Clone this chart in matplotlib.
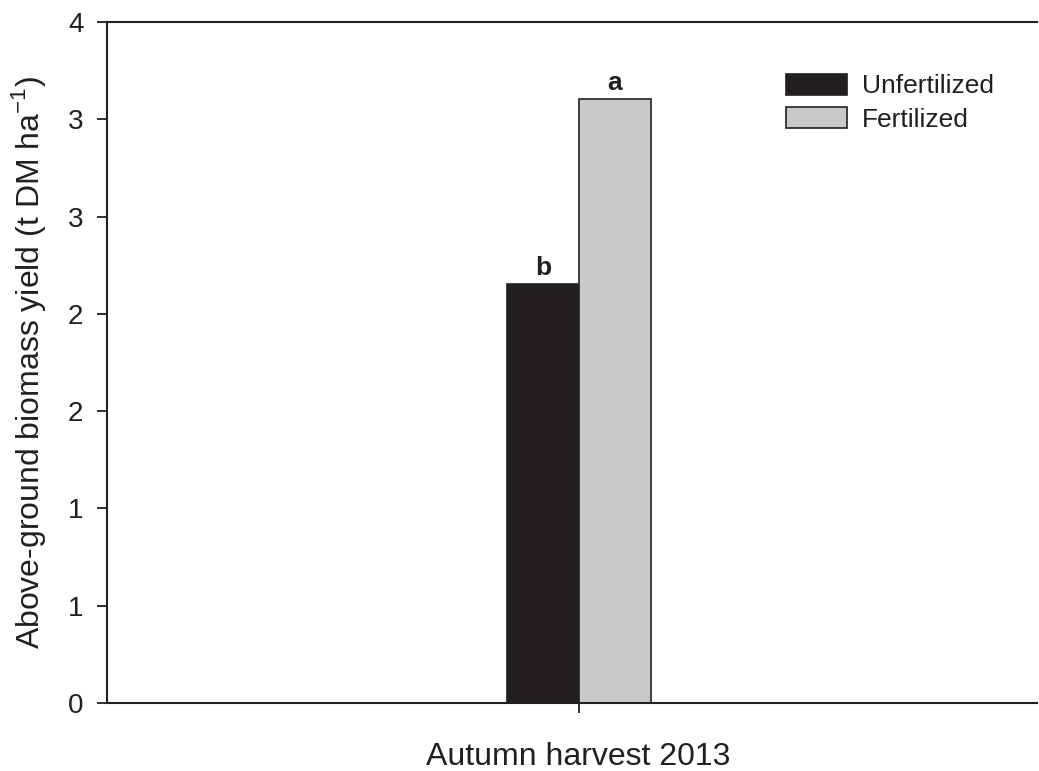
import matplotlib
matplotlib.use("Agg")
import matplotlib.pyplot as plt
from matplotlib.patches import Patch

plt.rcParams['font.family'] = ['Liberation Sans', 'DejaVu Sans']

# Data
category = "Autumn harvest 2013"
series = ["Unfertilized", "Fertilized"]
values = [2.153, 3.104]
letters = ["b", "a"]
colors = ["#231f20", "#c8c9cb"]
yticks = [0, 0.5, 1.0, 1.5, 2.0, 2.5, 3.0, 3.5]
yticklabels = ["0", "1", "1", "2", "2", "3", "3", "4"]

W, H = 1039, 771
fig = plt.figure(figsize=(W/100, H/100), dpi=100)
ax = fig.add_axes([107/W, 68/H, 930/W, 681/H])

width = 1.0
offsets = [-width/2, width/2]
for off, v, c, lab in zip(offsets, values, colors, letters):
    ax.bar(off, v, width=width, color=c, edgecolor="#231f20", linewidth=1.2)
    ax.text(off, v + 0.02, lab, ha="center", va="bottom",
            fontsize=19, fontweight="bold", color="#231f20")

ax.set_xlim(-(579-107)/72, (1037-579)/72)
ax.set_ylim(0, 3.5)
ax.set_yticks(yticks)
ax.set_yticklabels(yticklabels)
ax.set_xticks([0])
ax.set_xticklabels([""])
ax.set_xlabel(category, fontsize=23, color="#231f20")
ax.xaxis.set_label_coords((578.5-107)/930, (703-742)/681)
ax.set_ylabel("Above-ground biomass yield (t DM ha$^{\\mathregular{-1}}$)",
              fontsize=23, color="#231f20")
ax.yaxis.set_label_coords((48-107)/930, 0.5)

for s in ["left", "bottom", "top"]:
    ax.spines[s].set_linewidth(1.5)
    ax.spines[s].set_color("#231f20")
ax.spines["right"].set_visible(False)
ax.tick_params(axis="both", direction="out", length=7, width=1.3,
               colors="#231f20", labelsize=20, pad=10)

handles = [Patch(facecolor=c, edgecolor="#231f20", linewidth=1.2) for c in colors]
leg = ax.legend(handles, series, loc="upper left",
                bbox_to_anchor=((786-107)/930, (703-74)/681),
                frameon=False, fontsize=19, handlelength=2.3, handleheight=0.82,
                handletextpad=0.57, labelspacing=0.34, borderpad=0, borderaxespad=0)
for t in leg.get_texts():
    t.set_color("#231f20")

fig.savefig("out.png", dpi=100)
